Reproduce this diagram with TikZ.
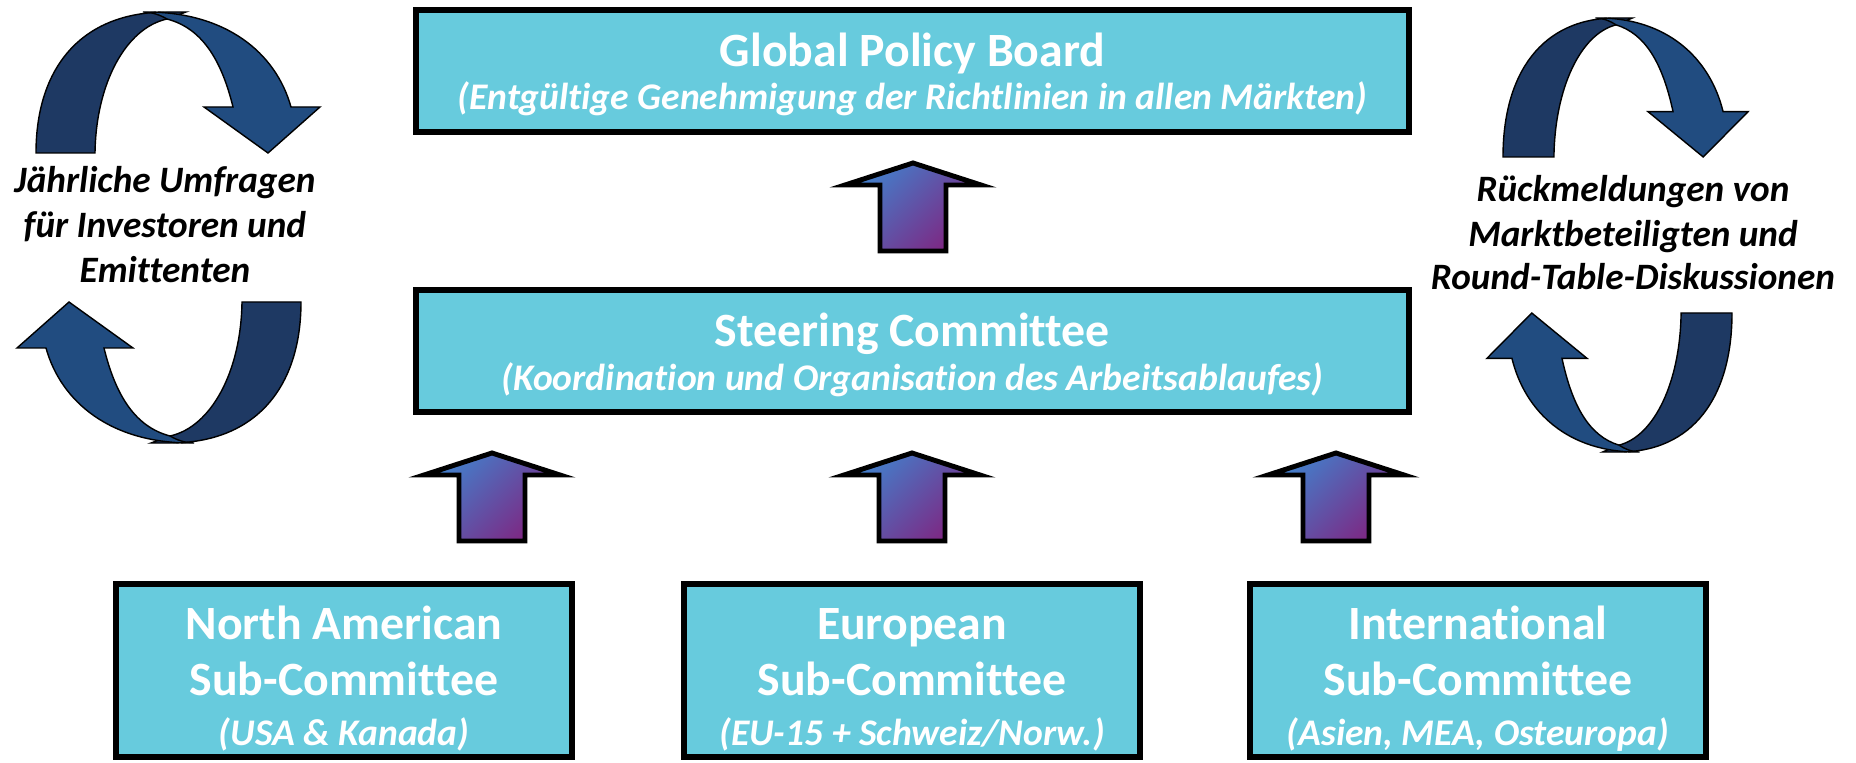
\documentclass[tikz,border=0pt]{standalone}
\usepackage{fontspec}
\setmainfont{Carlito}[Ligatures={NoCommon}]
\usetikzlibrary{positioning}

\definecolor{boxcyan}{RGB}{103,203,221}
\definecolor{curlback}{RGB}{30,57,99}
\definecolor{curlfront}{RGB}{33,76,128}
\definecolor{arrowblue}{RGB}{66,128,204}
\definecolor{arrowpurple}{RGB}{128,36,128}

\tikzset{
  board/.style={rectangle, draw=black, line width=3.4pt, fill=boxcyan, inner sep=0pt},
  boxtitle/.style={anchor=base, text=white, font=\fontsize{27.2}{30}\selectfont\bfseries},
  boxsub/.style={anchor=base, text=white, font=\fontsize{21.4}{24}\selectfont\bfseries\itshape},
  sidetext/.style={anchor=base, font=\fontsize{21.2}{24}\selectfont\bfseries\itshape},
  curlline/.style={draw=black, line width=0.8pt},
  uparrow/.pic={
    \draw[line width=2.8pt, line join=miter, top color=arrowblue, bottom color=arrowpurple, shading angle=45]
      (0,0) -- (68,22) -- (33,22) -- (33,88) -- (-33,88) -- (-33,22) -- (-68,22) -- cycle;
  },
}

% one half of a circular arrow, drawn with y pointing up
\newcommand\curlhalf{%
  \draw[curlline, fill=curlback] (0,0) .. controls (0,85) and (45,141) .. (131,141) -- (150,141) -- (131,134)
    .. controls (90,125) and (60,70) .. (59,0) -- cycle;
  \draw[curlline, fill=curlfront] (131,134) .. controls (124,138) and (116,141) .. (107,141)
    .. controls (190,142) and (240,100) .. (255,46) -- (284,46) -- (232,0) -- (168,46) -- (197,46)
    .. controls (185,95) and (165,125) .. (131,134) -- cycle;
}

\begin{document}
\begin{tikzpicture}[x=0.02cm, y=-0.02cm]
\useasboundingbox (0,0) rectangle (1856,763);

% boards
\node[board, minimum width=19.86cm, minimum height=2.44cm] (global) at (912.5,71) {};
\node[boxtitle] (global-title) at (912.5,67) {Global Policy Board};
\node[boxsub] (global-sub) at (912.5,110) {(Entgültige Genehmigung der Richtlinien in allen Märkten)};

\node[board, minimum width=19.86cm, minimum height=2.44cm] (steering) at (912.5,351) {};
\node[boxtitle] (steering-title) at (912.5,347) {Steering Committee};
\node[boxsub] (steering-sub) at (912.5,391) {(Koordination und Organisation des Arbeitsablaufes)};

% sub-committees
\node[board, minimum width=9.12cm, minimum height=3.46cm] (northam) at (344,670.5) {};
\node[boxtitle] (northam-t1) at (344,639) {North American};
\node[boxtitle] (northam-t2) at (344,695) {Sub-Committee};
\node[boxsub] (northam-sub) at (344,745) {(USA \& Kanada)};

\node[board, minimum width=9.12cm, minimum height=3.46cm] (europe) at (912,670.5) {};
\node[boxtitle] (europe-t1) at (912,639) {European};
\node[boxtitle] (europe-t2) at (912,695) {Sub-Committee};
\node[boxsub] (europe-sub) at (912,745) {(EU-15 + Schweiz/Norw.)};

\node[board, minimum width=9.12cm, minimum height=3.46cm] (intl) at (1478,670.5) {};
\node[boxtitle] (intl-t1) at (1478,639) {International};
\node[boxtitle] (intl-t2) at (1478,695) {Sub-Committee};
\node[boxsub] (intl-sub) at (1478,745) {(Asien, MEA, Osteuropa)};

% block arrows
\pic at (913,163) {uparrow};
\pic at (492,453) {uparrow};
\pic at (912,453) {uparrow};
\pic at (1336,453) {uparrow};

% left cycle
\begin{scope}[shift={(36,153)}, yscale=-1]
  \curlhalf
\end{scope}
\begin{scope}[rotate around={180:(168.5,227.5)}]
  \begin{scope}[shift={(36,153)}, yscale=-1]
    \curlhalf
  \end{scope}
\end{scope}
\node[sidetext] (survey-1) at (165,193) {Jährliche Umfragen};
\node[sidetext] (survey-2) at (165,238) {für Investoren und};
\node[sidetext] (survey-3) at (165,283) {Emittenten};

% right cycle
\begin{scope}[shift={(1503,157)}, xscale=0.863, yscale=-0.986]
  \curlhalf
\end{scope}
\begin{scope}[rotate around={180:(1617.5,235)}]
  \begin{scope}[shift={(1503,157)}, xscale=0.863, yscale=-0.986]
    \curlhalf
  \end{scope}
\end{scope}
\node[sidetext] (feedback-1) at (1633,202) {Rückmeldungen von};
\node[sidetext] (feedback-2) at (1633,247) {Marktbeteiligten und};
\node[sidetext] (feedback-3) at (1633,290) {Round-Table-Diskussionen};
\end{tikzpicture}
\end{document}
